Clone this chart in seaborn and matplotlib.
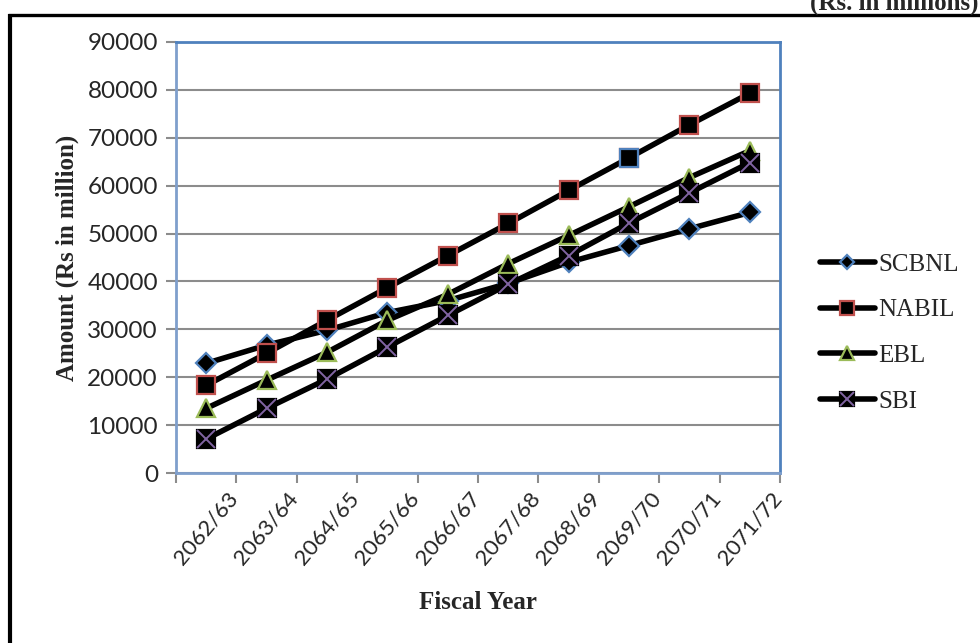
import numpy as np
import pandas as pd
import matplotlib
matplotlib.use("Agg")
import matplotlib.pyplot as plt
from matplotlib.lines import Line2D
from matplotlib.legend_handler import HandlerTuple
import seaborn as sns

# Fiscal years (Nepali calendar) and amounts in Rs million
years = ["2062/63", "2063/64", "2064/65", "2065/66", "2066/67",
         "2067/68", "2068/69", "2069/70", "2070/71", "2071/72"]
scbnl = [22900, 26700, 29800, 33500, 36000, 39600, 44000, 47500, 51000, 54400]
nabil = [18300, 25000, 31900, 38700, 45400, 52100, 59000, 65800, 72700, 79300]
ebl = [13500, 19400, 25200, 31900, 37300, 43700, 49600, 55600, 61700, 67300]
sbi = [7100, 13500, 19600, 26300, 32900, 39400, 45400, 52200, 58500, 64800]

df = pd.DataFrame({"pos": np.arange(len(years)), "year": years,
                   "SCBNL": scbnl, "NABIL": nabil, "EBL": ebl, "SBI": sbi})

sns.set_theme(style="white")
plt.rcParams["font.family"] = ["Liberation Serif", "DejaVu Serif"]

fig = plt.figure(figsize=(9.8, 6.43), dpi=100)
ax = fig.add_axes([176 / 980, 1 - 473 / 643, (780 - 176) / 980, (473 - 42) / 643])

blue, red, green, purple = "#4F81BD", "#C0504D", "#9BBB59", "#8064A2"
lw = 4.0
common = dict(color="black", linewidth=lw, markerfacecolor="black", markeredgewidth=1.6)

sns.lineplot(data=df, x="pos", y="SCBNL", ax=ax, marker="D", markersize=10,
             markeredgecolor=blue, zorder=3, **common)
sns.lineplot(data=df, x="pos", y="NABIL", ax=ax, marker="s", markersize=13,
             markeredgecolor=red, zorder=4, **common)
# the 2069/70 point carries a blue outline
ax.plot(df["pos"].iloc[7], df["NABIL"].iloc[7], marker="s", markersize=13,
        markerfacecolor="black", markeredgecolor=blue, markeredgewidth=1.6,
        linestyle="none", zorder=4.5)
sns.lineplot(data=df, x="pos", y="EBL", ax=ax, marker="^", markersize=13,
             markeredgecolor=green, zorder=5, **common)
sns.lineplot(data=df, x="pos", y="SBI", ax=ax, marker="s", markersize=13,
             markeredgecolor="black", zorder=6, **common)
ax.plot(df["pos"], df["SBI"], marker="x", markersize=13, markeredgecolor=purple,
        markeredgewidth=1.4, linestyle="none", zorder=7)

# axes range and grid
ax.set_ylim(0, 90000)
ax.set_xlim(-0.5, len(years) - 0.5)
ax.set_yticks(np.arange(0, 90001, 10000))
ax.yaxis.grid(True, color="#8C8C8C", linewidth=1.5)
ax.xaxis.grid(False)
ax.set_axisbelow(True)

ax.set_yticklabels([str(v) for v in range(0, 90001, 10000)],
                   fontdict=dict(family="Lato", size=17.5))

# category ticks sit between the categories, labels under each category
ax.set_xticks(np.arange(-0.5, len(years), 1.0))
ax.set_xticklabels([])
ax.set_xticks(np.arange(len(years)), minor=True)
ax.set_xticklabels(years, minor=True, rotation=50, ha="center", va="top",
                   fontdict=dict(family="Lato", size=16))
ax.tick_params(axis="x", which="major", length=7, width=1.5, color="#8C8C8C", direction="out", bottom=True)
ax.tick_params(axis="x", which="minor", length=0, pad=11)
ax.tick_params(axis="y", length=7, width=1.5, color="#8C8C8C", direction="out", left=True, pad=6)

for side in ("top", "right"):
    ax.spines[side].set_color(blue)
    ax.spines[side].set_linewidth(2.0)
for side in ("left", "bottom"):
    ax.spines[side].set_color("#7F9FCC")
    ax.spines[side].set_linewidth(2.0)

ax.set_xlabel("Fiscal Year", fontsize=18, fontweight="bold", labelpad=16)
ax.set_ylabel("Amount (Rs in million)", fontsize=18, fontweight="bold", labelpad=6)

# legend
h_scbnl = Line2D([], [], marker="D", markersize=10, markeredgecolor=blue, **common)
h_nabil = Line2D([], [], marker="s", markersize=13, markeredgecolor=red, **common)
h_ebl = Line2D([], [], marker="^", markersize=13, markeredgecolor=green, **common)
h_sbi_a = Line2D([], [], marker="s", markersize=13, markeredgecolor="black", **common)
h_sbi_b = Line2D([], [], marker="x", markersize=13, markeredgecolor=purple,
                 markeredgewidth=1.4, linestyle="none")
fig.legend([h_scbnl, h_nabil, h_ebl, (h_sbi_a, h_sbi_b)], ["SCBNL", "NABIL", "EBL", "SBI"],
           handler_map={tuple: HandlerTuple(ndivide=1)},
           loc="center left", bbox_to_anchor=(802 / 980, 1 - 333 / 643),
           frameon=False, fontsize=18, handlelength=2.2, handletextpad=0.15,
           labelspacing=0.93, markerscale=0.75, borderpad=0.2)

# outer frame and unit note
fig.add_artist(Line2D([9.5 / 980, 9.5 / 980], [0, 1 - 14 / 643], color="black",
                      linewidth=3, transform=fig.transFigure, solid_capstyle="butt"))
fig.add_artist(Line2D([8 / 980, 1], [1 - 15 / 643, 1 - 15 / 643], color="black",
                      linewidth=2.4, transform=fig.transFigure, solid_capstyle="butt"))
fig.text(978 / 980, 1 - 10 / 643, "(Rs. in millions)", ha="right", va="baseline",
         fontsize=18, fontweight="bold")

fig.savefig("out.png", dpi=100)
